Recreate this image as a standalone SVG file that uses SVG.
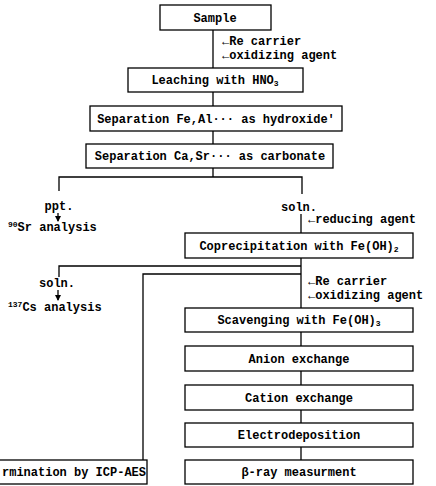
<svg xmlns="http://www.w3.org/2000/svg" width="436" height="486" viewBox="0 0 436 486">
  <style>
    .box { fill: #ffffff; stroke: #000000; stroke-width: 1.3; }
    .ln { fill: none; stroke: #000000; stroke-width: 1.3; }
    .t { font-family: "Liberation Mono", "DejaVu Sans Mono", monospace; font-weight: bold; font-size: 12px; fill: #000000; }
    .c { text-anchor: middle; }
    .sub { font-size: 8px; }
  </style>
  <defs>
    <marker id="ah" viewBox="0 0 6 6" refX="5" refY="3" markerWidth="6" markerHeight="6" orient="auto" markerUnits="userSpaceOnUse">
      <path d="M0,0 L6,3 L0,6 z" fill="#000000"/>
    </marker>
  </defs>
  <rect width="436" height="486" fill="#ffffff"/>

  <!-- connectors -->
  <g id="connectors">
    <line class="ln" x1="213" y1="30" x2="213" y2="68"/>
    <line class="ln" x1="213" y1="92" x2="213" y2="106"/>
    <line class="ln" x1="213" y1="131" x2="213" y2="144"/>
    <line class="ln" x1="213" y1="168" x2="213" y2="177"/>
    <polyline class="ln" points="59,191 59,177 302,177 302,194"/>
    <line class="ln" x1="58" y1="213" x2="58" y2="221" marker-end="url(#ah)"/>
    <line class="ln" x1="301" y1="214" x2="301" y2="233"/>
    <line class="ln" x1="301" y1="258" x2="301" y2="460"/>
    <polyline class="ln" points="59,277 59,266 301,266"/>
    <polyline class="ln" points="143,460 143,274 301,274"/>
    <line class="ln" x1="58" y1="290" x2="58" y2="300" marker-end="url(#ah)"/>
  </g>

  <g id="sample">
    <rect class="box" x="160" y="5" width="111" height="25"/>
    <text class="t c" x="215" y="22">Sample</text>
  </g>
  <g id="additions-1">
    <text class="t" x="222" y="45">←Re carrier</text>
    <text class="t" x="222" y="59">←oxidizing agent</text>
  </g>
  <g id="leaching">
    <rect class="box" x="128" y="68" width="175" height="24"/>
    <text class="t c" x="215" y="84">Leaching with HNO<tspan class="sub" dy="2">3</tspan></text>
  </g>
  <g id="hydroxide">
    <rect class="box" x="90" y="106" width="252" height="25"/>
    <text class="t c" x="216" y="123">Separation Fe,Al··· as hydroxide'</text>
  </g>
  <g id="carbonate">
    <rect class="box" x="86" y="144" width="247" height="24"/>
    <text class="t c" x="210" y="160">Separation Ca,Sr··· as carbonate</text>
  </g>
  <g id="ppt">
    <text class="t c" x="59" y="210">ppt.</text>
    <text class="t" x="8" y="231"><tspan class="sub" dy="-4">90</tspan><tspan dy="4">Sr analysis</tspan></text>
  </g>
  <g id="soln-1">
    <text class="t c" x="299" y="211">soln.</text>
    <text class="t" x="308" y="223">←reducing agent</text>
  </g>
  <g id="coprecipitation">
    <rect class="box" x="185" y="233" width="228" height="25"/>
    <text class="t c" x="299" y="250">Coprecipitation with Fe(OH)<tspan class="sub" dy="2">2</tspan></text>
  </g>
  <g id="soln-2">
    <text class="t c" x="57" y="287">soln.</text>
    <text class="t" x="8" y="311"><tspan class="sub" dy="-4">137</tspan><tspan dy="4">Cs analysis</tspan></text>
  </g>
  <g id="additions-2">
    <text class="t" x="308" y="285">←Re carrier</text>
    <text class="t" x="308" y="299">←oxidizing agent</text>
  </g>
  <g id="scavenging">
    <rect class="box" x="185" y="308" width="228" height="24"/>
    <text class="t c" x="299" y="324">Scavenging with Fe(OH)<tspan class="sub" dy="2">3</tspan></text>
  </g>
  <g id="anion">
    <rect class="box" x="185" y="346" width="228" height="25"/>
    <text class="t c" x="299" y="363">Anion exchange</text>
  </g>
  <g id="cation">
    <rect class="box" x="185" y="385" width="228" height="25"/>
    <text class="t c" x="299" y="402">Cation exchange</text>
  </g>
  <g id="electrodeposition">
    <rect class="box" x="185" y="423" width="228" height="24"/>
    <text class="t c" x="299" y="439">Electrodeposition</text>
  </g>
  <g id="beta">
    <rect class="box" x="185" y="460" width="228" height="24"/>
    <text class="t c" x="299" y="476">β-ray measurment</text>
  </g>
  <g id="icp">
    <rect class="box" x="-5" y="460" width="152" height="24"/>
    <text class="t" x="2" y="476">rmination by ICP-AES</text>
  </g>
</svg>
